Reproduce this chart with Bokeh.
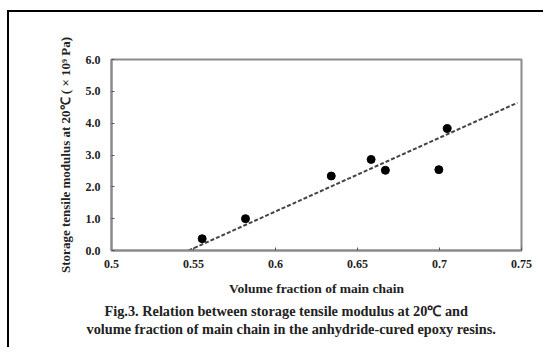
from bokeh.plotting import figure
from bokeh.models import FixedTicker, Title, Range1d
from bokeh.embed import file_html
from bokeh.resources import INLINE

# data
vol_frac = [0.5553, 0.5817, 0.634, 0.6583, 0.667, 0.6996, 0.7047]
modulus = [0.37, 1.00, 2.34, 2.86, 2.52, 2.54, 3.83]
fit_x = [0.547, 0.7475]
fit_y = [0.0, 4.64]
x_ticks = [0.5, 0.55, 0.6, 0.65, 0.7, 0.75]
x_tick_labels = ["0.5", "0.55", "0.6", "0.65", "0.7", "0.75"]
y_ticks = [0, 1, 2, 3, 4, 5, 6]
y_tick_labels = ["0.0", "1.0", "2.0", "3.0", "4.0", "5.0", "6.0"]
x_title = "Volume fraction of main chain"
y_title = "Storage tensile modulus at 20\u2103 ( \u00d7 10\u2079 Pa)"
caption = ["Fig.3. Relation between storage tensile modulus at 20\u2103 and",
           "volume fraction of main chain in the anhydride-cured epoxy resins."]

FONT = "Liberation Serif"
W, H = 536, 337

p = figure(width=W, height=H, output_backend="svg", toolbar_location=None,
           x_range=Range1d(0.5, 0.75), y_range=Range1d(0, 6),
           min_border_left=102, min_border_right=24,
           min_border_top=47, min_border_bottom=99)
p.styles = {"margin-left": "7px", "margin-top": "10px",
            "border-left": "2px solid black", "border-top": "2px solid black"}
p.xgrid.visible = False
p.ygrid.visible = False
p.background_fill_color = "white"
p.border_fill_color = "white"
p.outline_line_color = "#8a8a8a"
p.outline_line_width = 2

for ax, ticks, labels in ((p.xaxis[0], x_ticks, x_tick_labels), (p.yaxis[0], y_ticks, y_tick_labels)):
    ax.ticker = FixedTicker(ticks=ticks)
    ax.major_label_overrides = {t: l for t, l in zip(ticks, labels)}
    ax.minor_tick_line_color = None
    ax.major_tick_in = 3
    ax.major_tick_out = 0
    ax.major_tick_line_color = "#555555"
    ax.axis_line_color = "#8a8a8a"
    ax.axis_line_width = 2
    ax.major_label_text_font = FONT
    ax.major_label_text_font_style = "bold"
    ax.major_label_text_font_size = "12px"
    ax.major_label_text_color = "#222222"
    ax.axis_label_text_font = FONT
    ax.axis_label_text_font_style = "bold"
    ax.axis_label_text_color = "#222222"

p.xaxis.axis_label = x_title
p.xaxis.axis_label_text_font_size = "13.5px"
p.xaxis.major_label_standoff = 9
p.xaxis.axis_label_standoff = 10
p.yaxis.axis_label = y_title
p.yaxis.axis_label_text_font_size = "13px"
p.yaxis.major_label_standoff = 11
p.yaxis.axis_label_standoff = 10

p.line(fit_x, fit_y, line_color="#444444", line_width=2, line_dash="4 2")
p.scatter(vol_frac, modulus, size=8, fill_color="black", line_color="black")

# caption below the chart
for txt, off, so in ((caption[0], -7, 4), (caption[1], -25, -4)):
    p.add_layout(Title(text=txt, align="left", offset=off, standoff=so,
                       text_font=FONT, text_font_style="bold", text_font_size="14.3px",
                       text_color="#222222"), "below")

open("out.html", "w").write(file_html(p, INLINE))
